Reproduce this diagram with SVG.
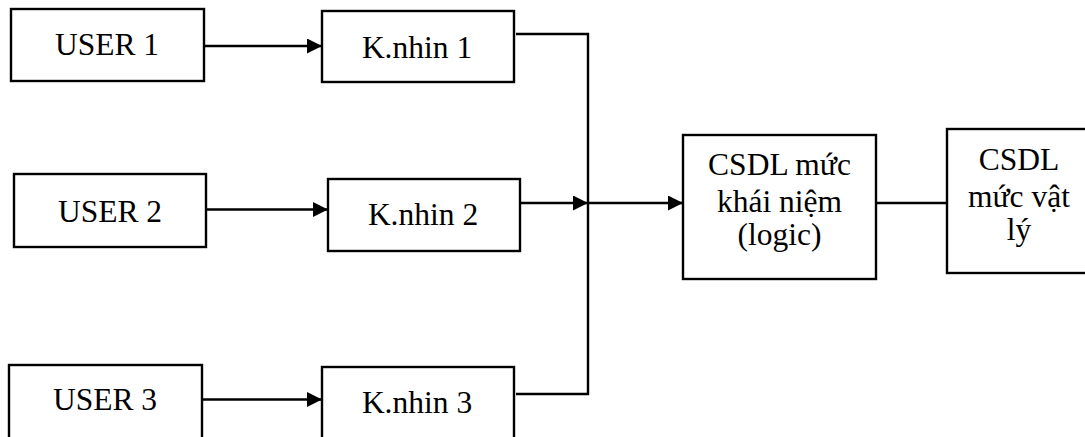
<svg xmlns="http://www.w3.org/2000/svg" width="1085" height="437" viewBox="0 0 1085 437">
<style>
.box{fill:#fff;stroke:#000;stroke-width:2.4}
.t{font-size:31.5px;fill:#000;text-anchor:middle}
.c{fill:none;stroke:#000;stroke-width:2.4}
</style>
<defs>
<marker id="ah" markerUnits="userSpaceOnUse" markerWidth="16" markerHeight="16" refX="15" refY="7.5" orient="auto">
<path d="M0,0 L15,7.5 L0,15 z" fill="#000"/>
</marker>
</defs>
<rect width="1085" height="437" fill="#fff"/>
<g id="connectors">
<line class="c" x1="204" y1="46" x2="322" y2="46" marker-end="url(#ah)"/>
<line class="c" x1="206" y1="209.5" x2="328" y2="209.5" marker-end="url(#ah)"/>
<line class="c" x1="202" y1="399.5" x2="322" y2="399.5" marker-end="url(#ah)"/>
<polyline class="c" points="516,34 588,34 588,394 516,394"/>
<line class="c" x1="516" y1="203" x2="588" y2="203" marker-end="url(#ah)"/>
<line class="c" x1="588" y1="203" x2="683" y2="203" marker-end="url(#ah)"/>
<line class="c" x1="876" y1="203" x2="947" y2="203"/>
</g>
<g font-family="Liberation Serif, Times New Roman, serif">
<g id="user1"><rect class="box" x="11" y="9" width="193" height="72"/><text class="t" x="107" y="55">USER 1</text></g>
<g id="user2"><rect class="box" x="14" y="174" width="192" height="73"/><text class="t" x="110" y="221.5">USER 2</text></g>
<g id="user3"><rect class="box" x="9" y="365" width="193" height="80"/><text class="t" x="105" y="410">USER 3</text></g>
<g id="knhin1"><rect class="box" x="322" y="11" width="192" height="71"/><text class="t" x="417" y="57.5">K.nhin 1</text></g>
<g id="knhin2"><rect class="box" x="328" y="179" width="192" height="72"/><text class="t" x="423" y="225">K.nhin 2</text></g>
<g id="knhin3"><rect class="box" x="322" y="367" width="192" height="80"/><text class="t" x="417" y="412.5">K.nhin 3</text></g>
<g id="csdl-logic"><rect class="box" x="683" y="135" width="193" height="144"/>
<text class="t" x="779.5" y="175">CSDL mức</text>
<text class="t" x="779.5" y="211.5">khái niệm</text>
<text class="t" x="779.5" y="245">(logic)</text></g>
<g id="csdl-physical"><rect class="box" x="947" y="129" width="150" height="144"/>
<text class="t" x="1019" y="170">CSDL</text>
<text class="t" x="1019" y="206.5">mức vật</text>
<text class="t" x="1019" y="240">lý</text></g>
</g>
</svg>
